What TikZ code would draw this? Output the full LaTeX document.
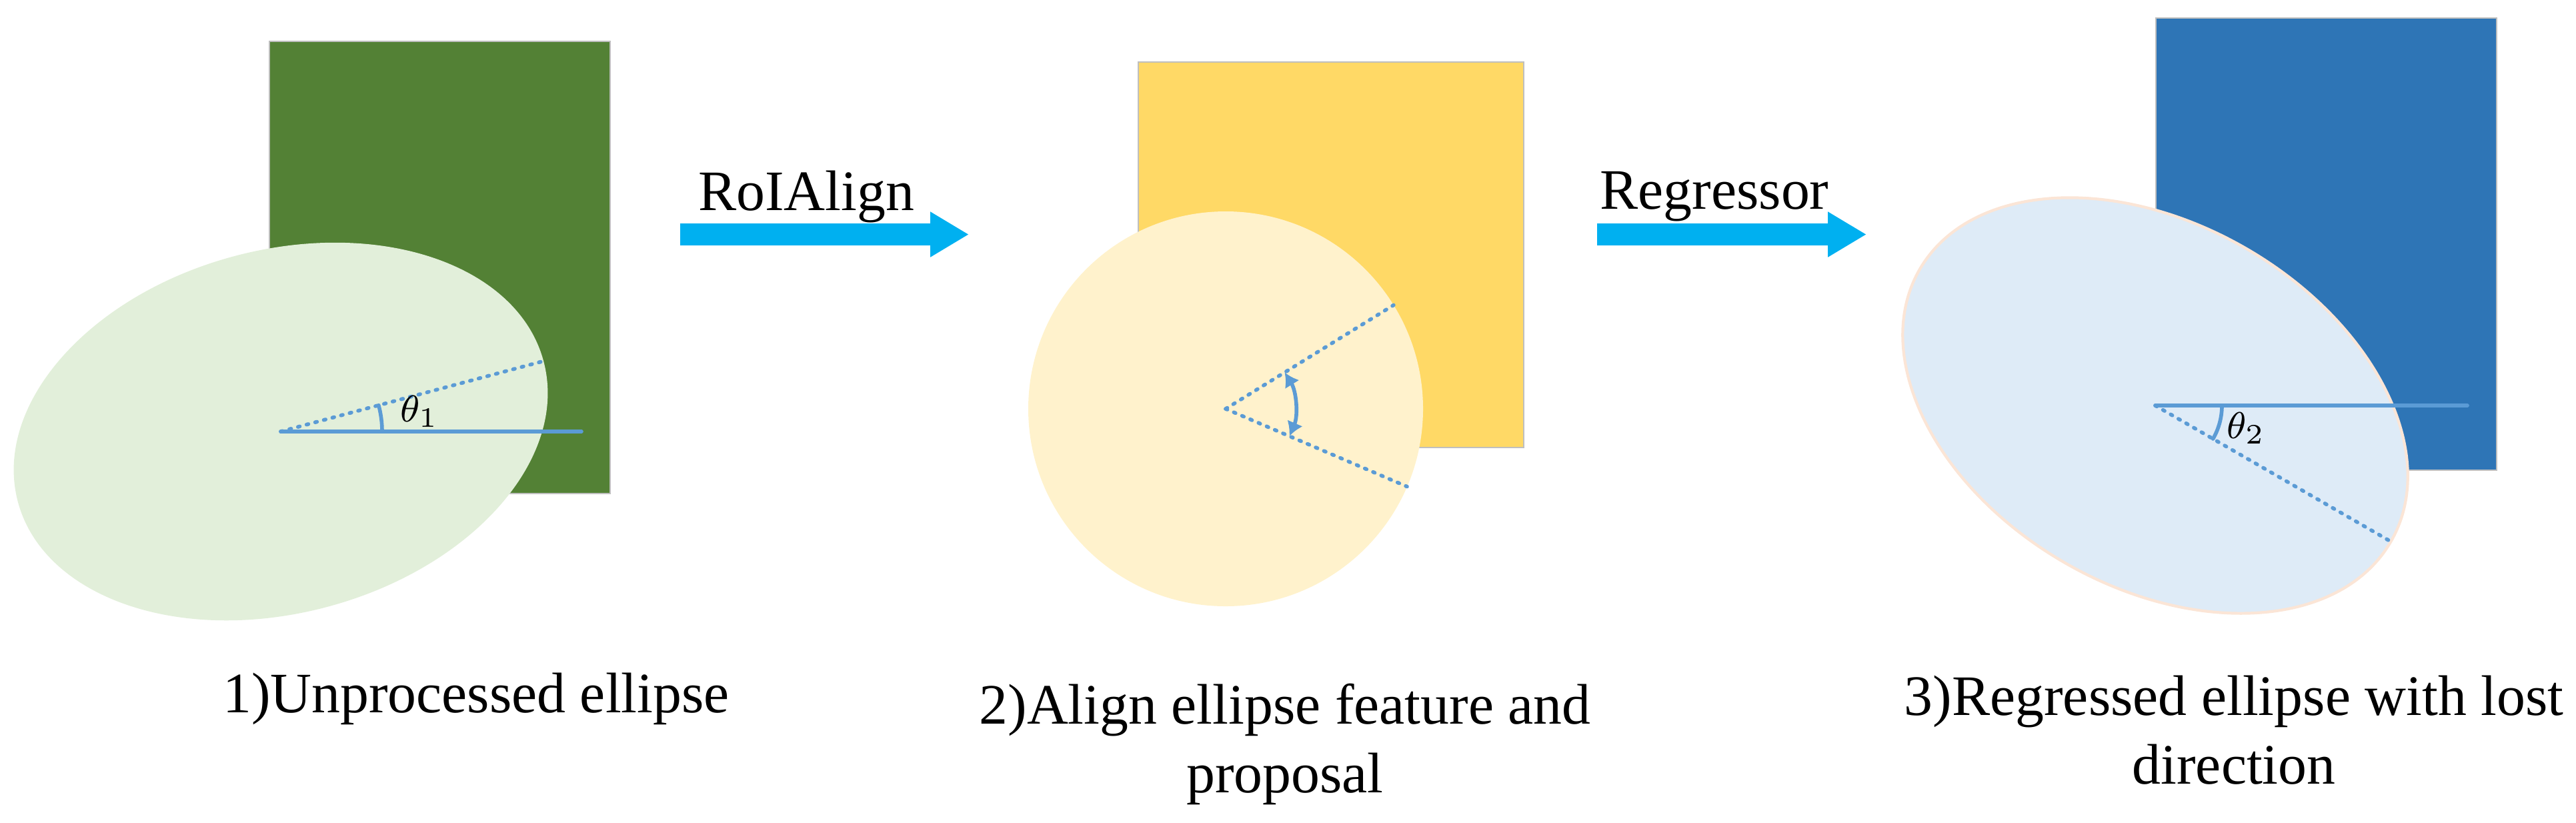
\documentclass[tikz,border=0pt]{standalone}
\usepackage{fontspec}
\setmainfont{Liberation Serif}
\usepackage{tikz}
\usetikzlibrary{arrows.meta}
\usetikzlibrary{calc}
\definecolor{linecolor}{HTML}{5B9BD5}
\definecolor{arrowcolor}{HTML}{00B0F0}
\definecolor{greenbox}{HTML}{538135}
\definecolor{greenfill}{HTML}{E2EFDA}
\definecolor{yellowbox}{HTML}{FFD966}
\definecolor{yellowfill}{HTML}{FFF2CC}
\definecolor{bluebox}{HTML}{2E75B6}
\definecolor{bluefill}{HTML}{DEEBF7}
\definecolor{rimcolor}{HTML}{FBE5D6}
\definecolor{edgecolor}{HTML}{BFBFBF}

\begin{document}
\begin{tikzpicture}[scale=1,
  axisline/.style={color=linecolor, line width=0.8pt, line cap=round},
  dotline/.style={color=linecolor, line width=0.8pt, line cap=round, dash pattern=on 0.4pt off 1.5pt},
  bigarrow/.style={color=arrowcolor, line width=0.165cm, -{Triangle[length=0.29cm,width=0.32cm]}},
  caption/.style={font=\fontsize{12.2}{14.6}\selectfont, align=center, anchor=base},
  anglabel/.style={font=\fontsize{8.2}{9}\selectfont}]
\useasboundingbox (0,0) rectangle (19.315,6.165);

%% 1) unprocessed ellipse
\coordinate (c1) at (2.105,2.93);
\filldraw[fill=greenbox, draw=edgecolor, line width=0.3pt] (2.02,2.465) rectangle (4.575,5.855);
\fill[greenfill] (c1) ellipse [x radius=2.04, y radius=1.36, rotate=15];
\draw[axisline] (c1) -- (4.36,2.93);
\draw[dotline] (c1) -- ++(15:2.04);
\draw[axisline] ([shift={(0:0.76)}]c1) arc[start angle=0, end angle=15, radius=0.76];
\node[anglabel] (t1) at (3.145,3.08) {$\theta_1$};
\node[caption] (cap1) at (3.57,0.825) {1)Unprocessed ellipse};

%% RoIAlign
\coordinate (a1) at (5.10,4.4075);
\coordinate (b1) at (7.265,4.4075);
\draw[bigarrow] (a1) -- (b1);
\node[caption] (roi) at (6.045,4.59) {RoIAlign};

%% 2) aligned feature
\coordinate (c2) at (9.19,3.10);
\filldraw[fill=yellowbox, draw=edgecolor, line width=0.3pt] (8.535,2.81) rectangle (11.425,5.70);
\fill[yellowfill] (c2) circle (1.48);
\draw[dotline] (c2) -- ++(31.7:1.48);
\draw[dotline] (c2) -- ++(-23.2:1.48);
\draw[axisline, {Latex[length=3pt,width=3.6pt]}-{Latex[length=3pt,width=3.6pt]}]
  ([shift={(31.7:0.52)}]c2) arc[start angle=31.7, end angle=-23.2, radius=0.52];
\node[caption] (cap2) at (9.635,0.225) {2)Align ellipse feature and\\proposal};

%% Regressor
\coordinate (a2) at (11.975,4.4075);
\coordinate (b2) at (13.995,4.4075);
\draw[bigarrow] (a2) -- (b2);
\node[caption] (reg) at (12.855,4.60) {Regressor};

%% 3) regressed ellipse
\coordinate (c3) at (16.16,3.125);
\filldraw[fill=bluebox, draw=edgecolor, line width=0.3pt] (16.165,2.64) rectangle (18.72,6.03);
\filldraw[fill=bluefill, draw=rimcolor, line width=0.6pt] (c3) ellipse [x radius=2.04, y radius=1.36, rotate=-30];
\draw[axisline] (c3) -- (18.50,3.125);
\draw[dotline] (c3) -- ++(-30:2.04);
\draw[axisline] ([shift={(0:0.50)}]c3) arc[start angle=0, end angle=-30, radius=0.50];
\node[anglabel] (t2) at (16.84,2.955) {$\theta_2$};
\node[caption] (cap3) at (16.75,0.29) {3)Regressed ellipse with lost\\direction};
\end{tikzpicture}
\end{document}
